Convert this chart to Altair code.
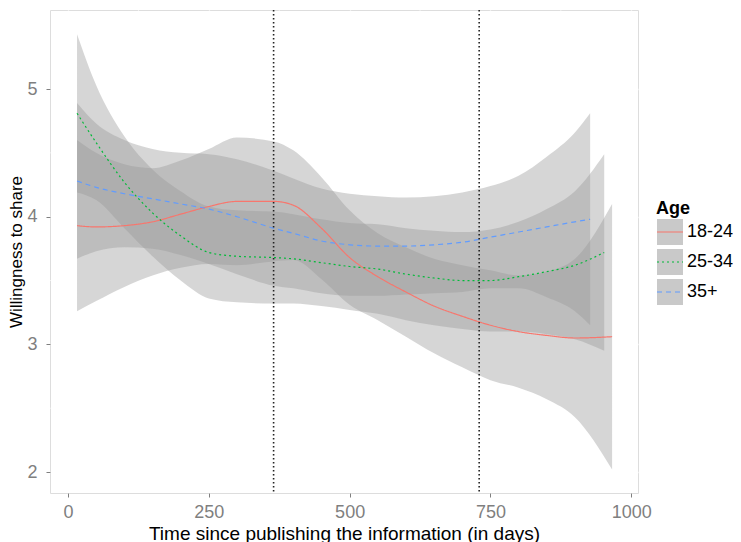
import altair as alt
import pandas as pd

FONT = "Liberation Sans"

ages = ["18-24", "25-34", "35+"]
line_colors = ["#F8766D", "#00BA38", "#619CFF"]

# x positions (days)
days_1824 = [16, 50, 100, 150, 200, 250, 300, 365, 400, 450, 500, 550, 600, 650, 700, 750, 800, 850, 900, 966]
days_2534 = [16, 50, 100, 150, 200, 250, 300, 365, 400, 450, 500, 550, 600, 650, 700, 750, 800, 850, 900, 952]
days_35p = [16, 50, 100, 150, 200, 250, 300, 365, 400, 450, 500, 550, 600, 650, 700, 750, 800, 850, 900, 927]

# smoothed means
fit_1824 = [3.93, 3.92, 3.93, 3.96, 4.02, 4.08, 4.12, 4.12, 4.09, 3.91, 3.68, 3.53, 3.41, 3.30, 3.22, 3.15, 3.10, 3.07, 3.05, 3.06]
fit_2534 = [4.81, 4.58, 4.27, 4.03, 3.85, 3.72, 3.69, 3.68, 3.67, 3.64, 3.61, 3.59, 3.55, 3.52, 3.50, 3.50, 3.53, 3.57, 3.62, 3.72]
fit_35p = [4.28, 4.23, 4.18, 4.14, 4.10, 4.06, 4.00, 3.91, 3.87, 3.81, 3.78, 3.77, 3.77, 3.78, 3.80, 3.84, 3.88, 3.92, 3.96, 3.98]

# half-widths of the confidence bands
se_1824 = [0.67, 0.58, 0.48, 0.42, 0.42, 0.45, 0.50, 0.47, 0.43, 0.40, 0.37, 0.34, 0.35, 0.37, 0.40, 0.43, 0.44, 0.50, 0.62, 1.04]
se_2534 = [0.62, 0.45, 0.36, 0.34, 0.35, 0.36, 0.36, 0.36, 0.35, 0.34, 0.34, 0.35, 0.36, 0.37, 0.38, 0.40, 0.43, 0.49, 0.58, 0.77]
se_35p = [0.61, 0.50, 0.42, 0.39, 0.40, 0.43, 0.45, 0.45, 0.43, 0.41, 0.40, 0.39, 0.38, 0.38, 0.39, 0.40, 0.44, 0.55, 0.70, 0.83]

x_ticks = [0, 250, 500, 750, 1000]
y_ticks = [2, 3, 4, 5]
x_minor = [125, 375, 625, 875]
y_minor = [2.5, 3.5, 4.5]
year_marks = [365, 730]

rows = []
for age, ds, fs, ss in [("18-24", days_1824, fit_1824, se_1824),
                        ("25-34", days_2534, fit_2534, se_2534),
                        ("35+", days_35p, fit_35p, se_35p)]:
    for d, f, s in zip(ds, fs, ss):
        rows.append({"Age": age, "days": d, "value": f, "lower": f - s, "upper": f + s})
df = pd.DataFrame(rows)

xscale = alt.Scale(domain=[-32, 1012], nice=False, zero=False)
yscale = alt.Scale(domain=[1.836, 5.619], nice=False, zero=False)

x_axis = alt.Axis(values=x_ticks, format="d", title="Time since publishing the information (in days)",
                  grid=True, gridColor="white", gridWidth=1.3, domain=False,
                  tickColor="#7F7F7F", tickSize=4, tickWidth=1,
                  labelColor="#7F7F7F", labelFontSize=18, labelFont=FONT, labelPadding=6,
                  labelOverlap=False, labelFlush=False,
                  titleFont=FONT, titleFontSize=19, titleFontWeight="normal", titleColor="black",
                  titlePadding=3)
y_axis = alt.Axis(values=y_ticks, format="d", title="Willingness to share",
                  grid=True, gridColor="white", gridWidth=1.3, domain=False,
                  tickColor="#7F7F7F", tickSize=4, tickWidth=1,
                  labelColor="#7F7F7F", labelFontSize=18, labelFont=FONT, labelPadding=9,
                  labelOverlap=False, labelFlush=False,
                  titleFont=FONT, titleFontSize=17, titleFontWeight="normal", titleColor="black",
                  titlePadding=1)

minor_x = alt.Chart(pd.DataFrame({"gx": x_minor})).mark_rule(color="white", strokeWidth=0.6).encode(
    x=alt.X("gx:Q", scale=xscale, axis=x_axis))
minor_y = alt.Chart(pd.DataFrame({"gy": y_minor})).mark_rule(color="white", strokeWidth=0.6).encode(
    y=alt.Y("gy:Q", scale=yscale, axis=y_axis))

leg_common = dict(orient="none", legendX=606, legendY=190, padding=0,
                  symbolSize=676, symbolStrokeWidth=1.2, rowPadding=-5,
                  labelFont=FONT, labelFontSize=18, labelColor="black", labelOffset=3,
                  titleFont=FONT, titleFontSize=18, titleFontWeight="bold", titleColor="black",
                  titlePadding=0)

# a horizontal stroke whose bounding box is the same unit square as the key squares
STROKE_KEY = "M-1,-1M-1,0L1,0M1,1"

ribbon = alt.Chart(df).mark_area(opacity=0.4, interpolate="monotone").encode(
    x=alt.X("days:Q", scale=xscale, axis=x_axis),
    y=alt.Y("lower:Q", scale=yscale, axis=y_axis),
    y2="upper:Q",
    fill=alt.Fill("Age:N", scale=alt.Scale(domain=ages, range=["#999999"] * 3),
                  legend=alt.Legend(title="Age", symbolType="square", symbolOpacity=0.52,
                                    symbolStrokeColor="transparent", **leg_common)),
)

line_legend = alt.Legend(title="Age", symbolType=STROKE_KEY, labelOpacity=0, titleOpacity=0, **leg_common)
lines = alt.Chart(df).mark_line(strokeWidth=1.2, interpolate="monotone").encode(
    x=alt.X("days:Q", scale=xscale, axis=x_axis),
    y=alt.Y("value:Q", scale=yscale, axis=y_axis),
    stroke=alt.Stroke("Age:N", scale=alt.Scale(range=line_colors), legend=line_legend),
    strokeDash=alt.StrokeDash("Age:N", scale=alt.Scale(range=[[1, 0], [2, 3], [5, 4]]), legend=line_legend),
)

vlines = alt.Chart(pd.DataFrame({"vx": year_marks})).mark_rule(
    color="#222222", strokeDash=[1.5, 2.5], strokeWidth=1.6).encode(
    x=alt.X("vx:Q", scale=xscale, axis=x_axis))

chart = alt.layer(minor_x, minor_y, ribbon, lines, vlines).properties(
    width=588, height=483,
    autosize=alt.AutoSizeParams(type="none"),
    padding={"left": 42, "top": 2, "right": 95, "bottom": 49},
).configure_view(fill="#E5E5E5", stroke=None).configure(background="white")

chart.save("out.html", embed_options={"renderer": "svg", "actions": False})
